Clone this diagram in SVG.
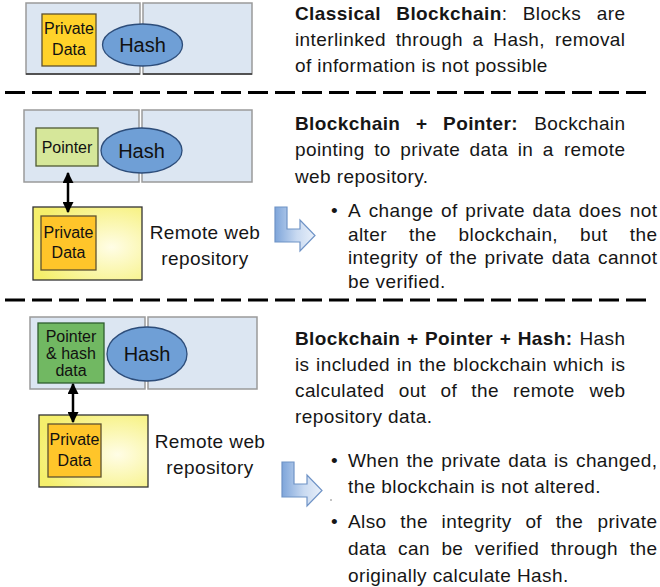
<svg xmlns="http://www.w3.org/2000/svg" width="660" height="587" viewBox="0 0 660 587">
<style>
.blk{fill:#dce6f2;stroke:#9a9a9a;stroke-width:1.5}
.hash{fill:#6f9fd6;stroke:#2d4d7a;stroke-width:1.3}
.pd{fill:#ffd22a;stroke:#5e5230;stroke-width:1.3}
.pd2{fill:#ffc52a;stroke:#5e5230;stroke-width:1.3}
.ptr{fill:#d6e79a;stroke:#4f5a33;stroke-width:1.3}
.ptrh{fill:#71b862;stroke:#2f5e2f;stroke-width:1.3}
.repo{fill:url(#repoGrad);stroke:#333;stroke-width:1.3}
.lbl{font-family:"Liberation Sans",Arial,sans-serif;font-size:16px;fill:#111;text-anchor:middle}
.hl{font-family:"Liberation Sans",Arial,sans-serif;font-size:20px;fill:#111;text-anchor:middle}
.t{font-family:"Liberation Sans",Arial,sans-serif;font-size:19px;letter-spacing:0.4px;fill:#161616}
.bd{font-weight:bold}
.rl{font-family:"Liberation Sans",Arial,sans-serif;font-size:19px;letter-spacing:0.4px;fill:#161616;text-anchor:middle}
.dash{stroke:#000;stroke-width:3;stroke-dasharray:20 7}
.con{stroke:#000;stroke-width:2.5;fill:none;marker-start:url(#ah);marker-end:url(#ah)}
.larr{fill:url(#arrGrad);stroke:#6f93c6;stroke-width:1.2}
</style>
<defs>
<radialGradient id="repoGrad" cx="0.72" cy="0.55" r="0.75">
<stop offset="0" stop-color="#fffde6"/>
<stop offset="1" stop-color="#f5ef6c"/>
</radialGradient>
<linearGradient id="arrGrad" x1="0" y1="0" x2="1" y2="0">
<stop offset="0" stop-color="#7ea5da"/>
<stop offset="0.55" stop-color="#c9daf1"/>
<stop offset="1" stop-color="#e9f0fa"/>
</linearGradient>
<marker id="ah" viewBox="0 0 10 10" refX="9" refY="5" markerWidth="4.4" markerHeight="4.4" orient="auto-start-reverse" markerUnits="strokeWidth">
<path d="M0,0 L10,5 L0,10 Z" fill="#000"/>
</marker>
<path id="lshape" d="M0,0 L12,0 L12,22 L25,22 L25,13 L40,28.5 L25,44 L25,35 L0,35 Z"/>
</defs>

<!-- separators -->
<g id="separators">
<line class="dash" x1="5" y1="92.5" x2="647" y2="92.5"/>
<line class="dash" x1="5" y1="300" x2="647" y2="300"/>
</g>

<!-- Section 1 -->
<g id="s1-block1"><rect class="blk" x="26" y="3" width="114" height="71"/><line x1="26" y1="74" x2="140" y2="74" stroke="#333" stroke-width="1.5"/></g>
<g id="s1-block2"><rect class="blk" x="143" y="3" width="109" height="71"/><line x1="143" y1="74" x2="252" y2="74" stroke="#333" stroke-width="1.5"/></g>
<g id="s1-private"><rect class="pd" x="42" y="14" width="54" height="52"/><text class="lbl" x="69" y="34">Private</text><text class="lbl" x="69" y="55">Data</text></g>
<g id="s1-hash"><ellipse class="hash" cx="142.5" cy="45" rx="40" ry="21"/><text class="hl" x="142.5" y="52">Hash</text></g>

<!-- Section 2 -->
<g id="s2-block1"><rect class="blk" x="24" y="110" width="115" height="72"/></g>
<g id="s2-block2"><rect class="blk" x="142" y="110" width="110" height="72"/></g>
<g id="s2-pointer"><rect class="ptr" x="36" y="128" width="62" height="38"/><text class="lbl" x="67" y="152.5">Pointer</text></g>
<g id="s2-hash"><ellipse class="hash" cx="141.5" cy="150.5" rx="40.5" ry="22.5"/><text class="hl" x="141.5" y="157.5">Hash</text></g>
<g id="s2-repo"><rect class="repo" x="33" y="207" width="109" height="73"/></g>
<g id="s2-private"><rect class="pd2" x="41" y="216" width="55" height="54"/><text class="lbl" x="68.5" y="237.5">Private</text><text class="lbl" x="68.5" y="257.5">Data</text></g>
<g id="s2-repolabel"><text class="rl" x="205" y="238.5">Remote web</text><text class="rl" x="205" y="264.5">repository</text></g>

<!-- Section 3 -->
<g id="s3-block1"><rect class="blk" x="30" y="317" width="115" height="72"/></g>
<g id="s3-block2"><rect class="blk" x="148" y="317" width="109" height="72"/></g>
<g id="s3-pointerhash"><rect class="ptrh" x="38" y="323" width="66" height="60"/><text class="lbl" x="71" y="341.5">Pointer</text><text class="lbl" x="71" y="359">&amp; hash</text><text class="lbl" x="71" y="376">data</text></g>
<g id="s3-hash"><ellipse class="hash" cx="147" cy="354" rx="40" ry="27"/><text class="hl" x="147" y="361">Hash</text></g>
<g id="s3-repo"><rect class="repo" x="39" y="415" width="109" height="72"/></g>
<g id="s3-private"><rect class="pd2" x="48" y="424" width="53" height="53"/><text class="lbl" x="74.5" y="445">Private</text><text class="lbl" x="74.5" y="466">Data</text></g>
<g id="s3-repolabel"><text class="rl" x="210" y="447.5">Remote web</text><text class="rl" x="210" y="473.5">repository</text></g>

<!-- connectors -->
<g id="connectors">
<line class="con" x1="68" y1="173" x2="68" y2="212"/>
<line class="con" x1="73" y1="384" x2="73" y2="422"/>
</g>

<!-- L arrows -->
<g id="s2-arrow"><use href="#lshape" class="larr" x="275" y="207"/></g>
<g id="s3-arrow"><use href="#lshape" class="larr" x="282" y="462"/></g>
<circle cx="331" cy="500" r="0.8" fill="#777"/>

<!-- Section 1 text -->
<g id="s1-text">
<text class="t" y="19.5"><tspan class="bd" x="295">Classical</tspan><tspan class="bd" x="396.3">Blockchain</tspan><tspan>: </tspan><tspan x="522.7">Blocks</tspan><tspan x="596.7">are</tspan></text>
<text class="t" y="45.5"><tspan x="295">interlinked</tspan><tspan x="395.7">through</tspan><tspan x="472.6">a</tspan><tspan x="493.3">Hash,</tspan><tspan x="555">removal</tspan></text>
<text class="t" x="295" y="71.5">of information is not possible</text>
</g>

<!-- Section 2 text -->
<g id="s2-text">
<text class="t" y="130"><tspan class="bd" x="295">Blockchain</tspan><tspan class="bd" x="416">+</tspan><tspan class="bd" x="443.1">Pointer:</tspan><tspan x="534.2">Bockchain</tspan></text>
<text class="t" y="156"><tspan x="295">pointing</tspan><tspan x="374.2">to</tspan><tspan x="400.3">private</tspan><tspan x="469.6">data</tspan><tspan x="517.7">in</tspan><tspan x="542.8">a</tspan><tspan x="563.9">remote</tspan></text>
<text class="t" x="295" y="182.5">web repository.</text>
<text class="t" x="331" y="217">•</text>
<text class="t" y="217"><tspan x="348">A</tspan><tspan x="368.7">change</tspan><tspan x="441">of</tspan><tspan x="465.2">private</tspan><tspan x="532.6">data</tspan><tspan x="578.8">does</tspan><tspan x="629.8">not</tspan></text>
<text class="t" y="240.5"><tspan x="348">alter</tspan><tspan x="409">the</tspan><tspan x="458.6">blockchain,</tspan><tspan x="580">but</tspan><tspan x="629.8">the</tspan></text>
<text class="t" y="264"><tspan x="348">integrity</tspan><tspan x="425.5">of</tspan><tspan x="449.5">the</tspan><tspan x="484.5">private</tspan><tspan x="551.7">data</tspan><tspan x="598">cannot</tspan></text>
<text class="t" x="348" y="287.5">be verified.</text>
</g>

<!-- Section 3 text -->
<g id="s3-text">
<text class="t" y="345"><tspan class="bd" x="295">Blockchain</tspan><tspan class="bd" x="406.9">+</tspan><tspan class="bd" x="424.9">Pointer</tspan><tspan class="bd" x="499.7">+</tspan><tspan class="bd" x="517.7">Hash:</tspan><tspan x="579.5">Hash</tspan></text>
<text class="t" y="371"><tspan x="295">is</tspan><tspan x="316.1">included</tspan><tspan x="396.7">in</tspan><tspan x="418.9">the</tspan><tspan x="453.1">blockchain</tspan><tspan x="553.5">which</tspan><tspan x="610.9">is</tspan></text>
<text class="t" y="397"><tspan x="295">calculated</tspan><tspan x="398.7">out</tspan><tspan x="440.5">of</tspan><tspan x="471.3">the</tspan><tspan x="513.1">remote</tspan><tspan x="589.4">web</tspan></text>
<text class="t" x="295" y="423">repository data.</text>
<text class="t" x="331" y="467">•</text>
<text class="t" y="467"><tspan x="348">When</tspan><tspan x="406.4">the</tspan><tspan x="441.2">private</tspan><tspan x="508.2">data</tspan><tspan x="554">is</tspan><tspan x="576">changed,</tspan></text>
<text class="t" x="348" y="493">the blockchain is not altered.</text>
<text class="t" x="331" y="528">•</text>
<text class="t" y="528"><tspan x="348">Also</tspan><tspan x="400.3">the</tspan><tspan x="441.6">integrity</tspan><tspan x="525.4">of</tspan><tspan x="555.7">the</tspan><tspan x="597.6">private</tspan></text>
<text class="t" y="555"><tspan x="348">data</tspan><tspan x="398.1">can</tspan><tspan x="441.4">be</tspan><tspan x="474.8">verified</tspan><tspan x="550.7">through</tspan><tspan x="629.8">the</tspan></text>
<text class="t" x="348" y="581.5">originally calculate Hash.</text>
</g>
</svg>
